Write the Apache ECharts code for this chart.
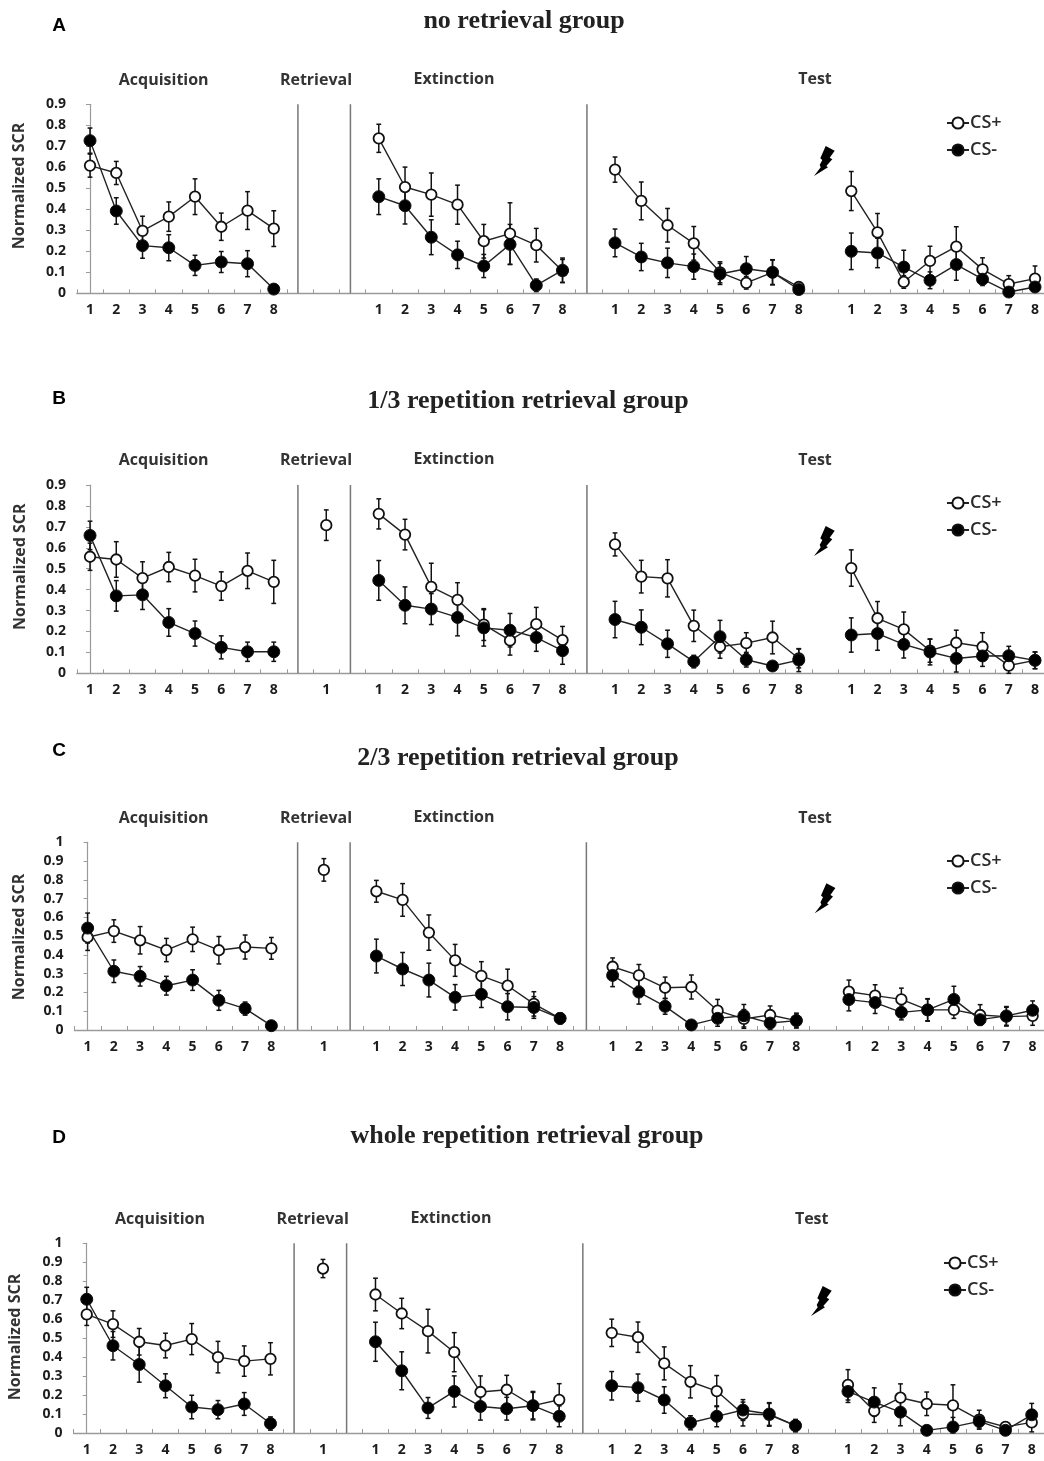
<!DOCTYPE html>
<html><head><meta charset="utf-8">
<style>html,body{margin:0;padding:0;background:#fff}#c{width:1044px;height:1461px}</style>
<script src="https://cdn.jsdelivr.net/npm/echarts@6/dist/echarts.min.js"></script>
</head><body><div id="c"></div>
<script>
// Slots: Acquisition 0-7, gap, Retrieval 9, gap, Extinction 11-18, gap, Test 20-27, gap, Test 29-36
const _ = null;
const labelsNoRetrieval = ['1','2','3','4','5','6','7','8','','','','1','2','3','4','5','6','7','8','','1','2','3','4','5','6','7','8','','1','2','3','4','5','6','7','8'];
const labelsRetrieval   = ['1','2','3','4','5','6','7','8','','1','','1','2','3','4','5','6','7','8','','1','2','3','4','5','6','7','8','','1','2','3','4','5','6','7','8'];

const plusA  = [.608,.573,.297,.365,.46,.317,.394,.308,_,_,_,.738,.506,.47,.422,.248,.284,.229,.106,_,.589,.44,.324,.238,.10,.05,.10,.03,_,.487,.29,.054,.154,.222,.114,.044,.07];
const plusAe = [.055,.055,.07,.07,.085,.065,.09,.085,_,_,_,.067,.095,.103,.093,.08,.147,.08,.055,_,.06,.09,.08,.08,.05,.03,.06,.01,_,.093,.09,.03,.07,.095,.055,.04,.06];
const minusA = [.727,.392,.227,.217,.133,.149,.141,.02,_,_,_,.46,.417,.267,.183,.13,.233,.038,.11,_,.24,.173,.145,.127,.092,.117,.10,.018,_,.20,.192,.125,.062,.137,.067,.006,.03];
const minusAe= [.06,.063,.06,.062,.048,.05,.062,.01,_,_,_,.085,.087,.083,.065,.055,.095,.03,.058,_,.066,.065,.07,.06,.05,.058,.058,.01,_,.087,.07,.08,.04,.075,.03,.005,.01];

const plusB  = [.557,.544,.455,.508,.467,.417,.49,.437,_,.708,_,.762,.663,.413,.351,.233,.157,.235,.159,_,.616,.462,.454,.227,.127,.144,.171,.071,_,.503,.263,.21,.108,.146,.127,.037,.062];
const plusBe = [.065,.085,.078,.07,.078,.068,.085,.103,_,.073,_,.072,.073,.113,.082,.076,.07,.08,.065,_,.055,.078,.089,.075,.055,.05,.078,.045,_,.087,.08,.083,.055,.06,.067,.04,.04];
const minusB = [.659,.37,.375,.243,.19,.124,.103,.103,_,_,_,.444,.325,.307,.267,.217,.206,.171,.108,_,.257,.22,.141,.056,.175,.065,.035,.063,_,.183,.19,.138,.102,.071,.083,.084,.062];
const minusBe= [.068,.073,.07,.066,.06,.055,.046,.046,_,_,_,.095,.088,.074,.088,.087,.08,.066,.065,_,.087,.083,.065,.03,.078,.035,.01,.055,_,.082,.08,.065,.062,.065,.05,.045,.04];

const plusC  = [.494,.527,.478,.426,.483,.425,.442,.435,_,.853,_,.739,.693,.519,.371,.288,.236,.139,.062,_,.337,.291,.225,.229,.103,.059,.08,.05,_,.204,.183,.163,.107,.107,.08,.071,.075];
const plusCe = [.07,.06,.073,.062,.065,.073,.064,.058,_,.06,_,.058,.087,.094,.085,.076,.088,.065,.02,_,.047,.058,.057,.064,.06,.05,.048,.035,_,.062,.058,.06,.058,.045,.055,.05,.05];
const minusC = [.543,.313,.286,.236,.266,.158,.114,.023,_,_,_,.394,.325,.266,.174,.19,.124,.12,.062,_,.291,.202,.126,.027,.062,.076,.037,.05,_,.162,.146,.094,.107,.163,.055,.075,.105];
const minusCe= [.08,.06,.052,.05,.055,.053,.035,.01,_,_,_,.09,.088,.09,.068,.07,.07,.058,.03,_,.06,.064,.042,.01,.042,.06,.034,.04,_,.06,.058,.04,.06,.07,.03,.05,.05];

const plusD  = [.625,.574,.481,.461,.495,.40,.379,.391,_,.867,_,.73,.63,.537,.426,.216,.228,.144,.175,_,.528,.505,.367,.27,.221,.10,.096,.039,_,.254,.116,.186,.154,.146,.07,.032,.056];
const plusDe = [.058,.07,.07,.065,.082,.083,.08,.085,_,.048,_,.086,.08,.115,.103,.085,.076,.07,.085,_,.072,.08,.087,.085,.082,.063,.06,.032,_,.08,.06,.073,.062,.108,.05,.025,.05];
const minusD = [.705,.46,.361,.249,.137,.123,.153,.05,_,_,_,.481,.328,.132,.219,.14,.128,.144,.088,_,.249,.239,.174,.054,.088,.121,.10,.039,_,.219,.163,.11,.014,.032,.061,.014,.096];
const minusDe= [.063,.075,.093,.063,.062,.048,.06,.035,_,_,_,.103,.10,.055,.082,.072,.06,.075,.055,_,.075,.072,.07,.037,.055,.055,.06,.032,_,.058,.075,.072,.008,.05,.035,.008,.06];

const sectionNames = ['Acquisition','Retrieval','Extinction','Test'];
const yAxisTitle = 'Normalized SCR';

// layout only
const layout = [
 {id:'A',title:'no retrieval group',tx:524,ty:21,lx:59,ly:26,left:76.9,top:104.3,base:293.3,yMax:.9,labels:labelsNoRetrieval,
  plus:plusA,plusE:plusAe,minus:minusA,minusE:minusAe,seps:[7.92,9.92,18.93],
  sec:[[163.7,80],[316,80],[454,79],[815,79]],bolt:[814,176],leg:[946,114],name:[19,186]},
 {id:'B',title:'1/3 repetition retrieval group',tx:528,ty:401,lx:59,ly:399,left:76.9,top:485,base:673.3,yMax:.9,labels:labelsRetrieval,
  plus:plusB,plusE:plusBe,minus:minusB,minusE:minusBe,seps:[7.92,9.92,18.93],
  sec:[[163.7,460.3],[316,460.3],[454,459.7],[815,460.3]],bolt:[814,556],leg:[946,494],name:[20.7,566.7]},
 {id:'C',title:'2/3 repetition retrieval group',tx:518,ty:758,lx:59,ly:751,left:74.5,top:842.3,base:1030,yMax:1,labels:labelsRetrieval,
  plus:plusC,plusE:plusCe,minus:minusC,minusE:minusCe,seps:[8,10,19],
  sec:[[163.7,818],[316,818],[454,817],[815,818.3]],bolt:[814.7,913.3],leg:[946,852],name:[19,937]},
 {id:'D',title:'whole repetition retrieval group',tx:527,ty:1136,lx:59,ly:1138,left:73.6,top:1243.3,base:1433,yMax:1,labels:labelsRetrieval,
  plus:plusD,plusE:plusDe,minus:minusD,minusE:minusDe,seps:[7.9,9.9,18.9],
  sec:[[160,1219],[312.7,1219],[451,1218.5],[811.7,1219]],bolt:[811,1316],leg:[943,1254],name:[15.7,1337]}
];
const slotW = 26.25, slots = 37;
const ink = '#1c1c1c', sans = '"Open Sans", Lato, sans-serif';
const boltShape = [[11.7,-30],[20.7,-25.3],[15.7,-18.3],[18.3,-16.7],[12.3,-10],[14,-8.7],[0,0],[6.7,-8.7],[5.7,-11],[8.3,-16],[6.3,-17.7]];

function errSeries(i, vals, errs){
  const data=[]; vals.forEach((v,k)=>{ if(v!==null && errs[k]!==null) data.push([k,Math.max(0,v-errs[k]),v+errs[k]]); });
  return {type:'custom',xAxisIndex:i*2,yAxisIndex:i,z:2,silent:true,data,encode:{x:0,y:[1,2]},clip:false,
    renderItem(p,api){
      const a=api.coord([api.value(0),api.value(1)]), b=api.coord([api.value(0),api.value(2)]);
      const st={stroke:'#111',lineWidth:1.5}, c=2.4;
      return {type:'group',children:[
        {type:'line',shape:{x1:a[0],y1:a[1],x2:b[0],y2:b[1]},style:st},
        {type:'line',shape:{x1:a[0]-c,y1:a[1],x2:a[0]+c,y2:a[1]},style:st},
        {type:'line',shape:{x1:b[0]-c,y1:b[1],x2:b[0]+c,y2:b[1]},style:st}]};
    }};
}
function lineSeries(i,name,vals,filled){
  return {type:'line',name,xAxisIndex:i*2,yAxisIndex:i,data:vals,z:filled?4:3,symbol:'circle',symbolSize:filled?12:10.5,showAllSymbol:true,
    lineStyle:{color:'#222',width:1.4},clip:false,silent:true,
    itemStyle:{color:filled?'#000':'#fff',borderColor:'#111',borderWidth:filled?1:1.8}};
}

const grid=[],xAxis=[],yAxis=[],series=[],legend=[],graphic=[];
layout.forEach((p,i)=>{
  grid.push({left:p.left,top:p.top,width:slotW*slots,height:p.base-p.top,outerBoundsMode:'none',containLabel:false});
  xAxis.push({type:'category',gridIndex:i,data:p.labels,boundaryGap:true,
    axisLine:{lineStyle:{color:'#9a9a9a',width:1.4}},
    axisTick:{show:true,inside:true,length:4,interval:0,lineStyle:{color:'#9a9a9a'}},
    axisLabel:{interval:0,margin:10,fontFamily:sans,fontWeight:'bold',fontSize:14,color:ink,hideOverlap:false}});
  xAxis.push({type:'value',gridIndex:i,min:-.5,max:36.5,show:false});
  yAxis.push({type:'value',gridIndex:i,min:0,max:p.yMax,interval:.1,
    splitLine:{show:false},
    axisLine:{show:true,lineStyle:{color:'#9a9a9a',width:1.2}},
    axisTick:{show:true,length:4,lineStyle:{color:'#9a9a9a'}},
    axisLabel:{margin:11,fontFamily:sans,fontWeight:'bold',fontSize:14,color:ink,formatter:v=>String(+v.toFixed(1))}});
  p.seps.forEach(s=>series.push({type:'line',xAxisIndex:i*2+1,yAxisIndex:i,data:[[s,0],[s,p.yMax]],symbol:'none',silent:true,z:1,
    lineStyle:{color:'#777',width:1.5}}));
  series.push(errSeries(i,p.plus,p.plusE),errSeries(i,p.minus,p.minusE));
  series.push(lineSeries(i,'CS+',p.plus,false),lineSeries(i,'CS-',p.minus,true));
  legend.push({data:['CS+','CS-'],orient:'vertical',left:p.leg[0],top:p.leg[1],itemWidth:22,itemHeight:14,itemGap:9,selectedMode:false,padding:0,
    textStyle:{fontFamily:'"Open Sans", sans-serif',fontSize:18,fontWeight:600,color:'#2a2a2a',padding:[0,0,0,-4]}});
  graphic.push({type:'text',x:p.tx,y:p.ty,style:{text:p.title,font:'bold 26px "Liberation Serif", serif',fill:'#222',align:'center',verticalAlign:'middle'}});
  graphic.push({type:'text',x:p.lx,y:p.ly,style:{text:p.id,font:'bold 19px "Liberation Sans", sans-serif',fill:'#000',align:'center',verticalAlign:'middle'}});
  graphic.push({type:'text',x:p.name[0],y:p.name[1],rotation:Math.PI/2,style:{text:yAxisTitle,font:'bold 16px '+sans,fill:'#333',align:'center',verticalAlign:'middle'}});
  sectionNames.forEach((s,k)=>graphic.push({type:'text',x:p.sec[k][0],y:p.sec[k][1],
    style:{text:s,font:'bold 16px '+sans,fill:'#333',align:'center',verticalAlign:'middle'}}));
  graphic.push({type:'polygon',x:p.bolt[0],y:p.bolt[1],shape:{points:boltShape},style:{fill:'#000'}});
});
const chart=echarts.init(document.getElementById('c'),null,{renderer:'canvas'});
chart.setOption({animation:false,backgroundColor:'#fff',tooltip:{show:false},grid,xAxis,yAxis,series,legend,graphic:{elements:graphic}});
</script></body></html>
